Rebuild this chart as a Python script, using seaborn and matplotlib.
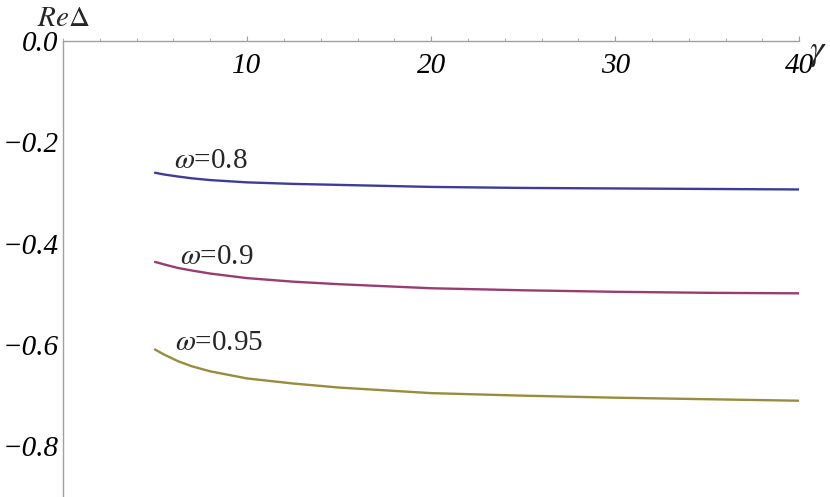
import pandas as pd
import matplotlib.pyplot as plt
import seaborn as sns
from matplotlib.ticker import MultipleLocator, FixedLocator

# gamma values and Re(Delta)
gamma = [5, 5.5, 6.25, 7, 8, 10, 12.5, 15, 20, 25, 30, 35, 40]
re_w080 = [-0.260, -0.2635, -0.2675, -0.2710, -0.2745, -0.279, -0.282, -0.284, -0.288, -0.290, -0.291, -0.292, -0.293]
re_w090 = [-0.436, -0.441, -0.448, -0.453, -0.459, -0.468, -0.475, -0.480, -0.488, -0.492, -0.495, -0.497, -0.498]
re_w095 = [-0.609, -0.619, -0.632, -0.642, -0.652, -0.666, -0.676, -0.684, -0.695, -0.700, -0.704, -0.707, -0.710]
omega_labels = [r"$\omega$=0.8", r"$\omega$=0.9", r"$\omega$=0.95"]
colors = ["#3d3d99", "#993d71", "#998c3d"]

x_ticks = [10, 20, 30, 40]
y_ticks = [0.0, -0.2, -0.4, -0.6, -0.8]
y_tick_labels = ["0.0", "\u22120.2", "\u22120.4", "\u22120.6", "\u22120.8"]


def build_frame():
    rows = []
    for lab, vals in zip(omega_labels, [re_w080, re_w090, re_w095]):
        for g, v in zip(gamma, vals):
            rows.append({"gamma": g, "re": v, "omega": lab})
    return pd.DataFrame(rows)


def main():
    sns.set_style("white")
    plt.rcParams['font.family'] = ['Liberation Serif', 'DejaVu Serif']
    plt.rcParams['mathtext.fontset'] = 'stix'
    df = build_frame()

    fig = plt.figure(figsize=(8.3, 4.97), dpi=100)
    ax = fig.add_axes([0.0759, 0.0, 0.8871, 0.9175])
    sns.lineplot(data=df, x="gamma", y="re", hue="omega", palette=colors,
                 linewidth=1.7, legend=False, ax=ax)

    ax.set_xlim(0, 40)
    ax.set_ylim(-0.9, 0.0)
    ax.set_xlabel("")
    ax.set_ylabel("")

    axis_gray = "#a0a0a0"
    for side in ["bottom", "right"]:
        ax.spines[side].set_visible(False)
    for side in ["top", "left"]:
        ax.spines[side].set_color(axis_gray)
        ax.spines[side].set_linewidth(1.0)

    ax.xaxis.tick_top()
    ax.xaxis.set_major_locator(FixedLocator(x_ticks))
    ax.xaxis.set_minor_locator(MultipleLocator(2))
    ax.tick_params(axis="x", which="both", direction="out", colors=axis_gray,
                   labelcolor="black", pad=-31, labelsize=21)
    ax.tick_params(axis="x", which="major", length=3.8, width=0.8)
    ax.tick_params(axis="x", which="minor", length=2.0, width=0.6)

    ax.yaxis.set_major_locator(FixedLocator(y_ticks))
    ax.set_yticklabels(y_tick_labels)
    ax.yaxis.set_minor_locator(MultipleLocator(0.05))
    ax.tick_params(axis="y", which="both", direction="in", colors=axis_gray,
                   labelcolor="black", pad=3, labelsize=21)
    ax.tick_params(axis="y", which="major", length=3.0, width=0.8)
    ax.tick_params(axis="y", which="minor", length=3.0, width=0.6)

    for lbl in ax.get_xticklabels() + ax.get_yticklabels():
        lbl.set_fontstyle("italic")

    # curve labels
    label_pos = [(8.04, -0.251), (8.35, -0.440), (8.47, -0.609)]
    for lab, (lx, ly) in zip(omega_labels, label_pos):
        ax.text(lx, ly, lab, ha="center", va="baseline", fontsize=21)

    # axis labels in Mathematica style
    fig.text(0.0759, 0.962, r"$\mathit{Re}\Delta$", ha="center", va="center",
             fontsize=21)
    fig.text(0.986, 0.895, r"$\gamma$", ha="center", va="center",
             fontsize=26)

    fig.savefig("out.png", dpi=100)


if __name__ == "__main__":
    main()
